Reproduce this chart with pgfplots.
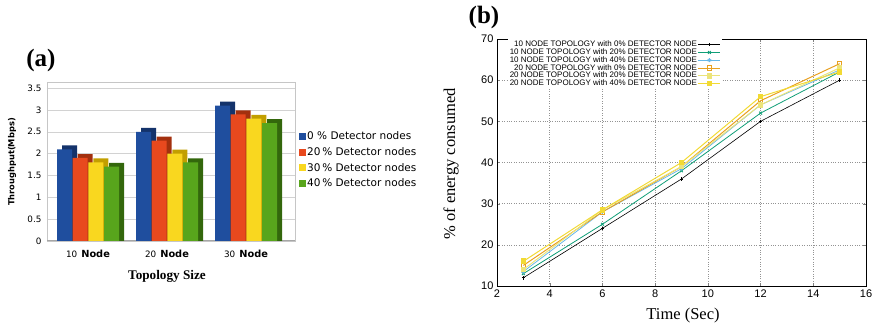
\documentclass[border=0pt]{standalone}
\usepackage{fontspec}
\setmainfont{Liberation Serif}
\newfontfamily\dv{DejaVu Sans}
\newfontfamily\ls{Liberation Sans}
\usepackage{pgfplots}
\usepackage{pgfplotstable}
\pgfplotsset{compat=1.18}
\definecolor{bA}{HTML}{1F4E9E}\definecolor{bAd}{HTML}{14336B}
\definecolor{rA}{HTML}{E8491E}\definecolor{rAd}{HTML}{A3300E}
\definecolor{yA}{HTML}{F9D71F}\definecolor{yAd}{HTML}{C29F00}
\definecolor{gA}{HTML}{58A51C}\definecolor{gAd}{HTML}{33670C}
\definecolor{c2}{HTML}{109E77}
\definecolor{c3}{HTML}{68B8E8}
\definecolor{c4}{HTML}{E8A020}
\definecolor{c5}{HTML}{ECE47A}
\definecolor{c6}{HTML}{F2DA34}
\pgfplotstableread{
x a b c d
0 2.1 1.9 1.8 1.7
1 2.5 2.3 2.0 1.8
2 3.1 2.9 2.8 2.7
}\thr
\begin{document}
\begin{tikzpicture}
\useasboundingbox (0,0) rectangle (879pt,328pt);
% ---------------- (a) ----------------
\begin{axis}[
  at={(47pt,87pt)}, anchor=south west, scale only axis,
  width=248pt, height=159pt,
  xmin=-0.519, xmax=2.62, ymin=0, ymax=3.64,
  ybar, bar width=15pt,
  xtick={0,1,2}, xticklabels={{\fontsize{8.8}{10}\dv 10}\hspace{4pt}\textbf{Node},{\fontsize{8.8}{10}\dv 20}\hspace{4pt}\textbf{Node},{\fontsize{8.8}{10}\dv 30}\hspace{4pt}\textbf{Node}},
  ytick={0,0.5,...,3.5},
  yticklabels={0,0.5,1,1.5,2,2.5,3,3.5},
  major tick length=0pt,
  ymajorgrids, grid style={gray!35},
  axis line style={gray!45},
  /pgf/number format/assume math mode=true,
  yticklabel style={font=\fontsize{8.8}{10}\dv, xshift=-2pt},
  xticklabel style={font=\fontsize{9.8}{11}\dv, yshift=-6pt},
  legend style={at={(1.004,0.707)}, anchor=north west, draw=none, fill=none,
    font=\fontsize{10.5}{12}\dv, row sep=4.2pt, nodes={inner sep=1pt}},
  legend cell align=left,
  legend image code/.code={\draw[#1,draw=none] (0pt,-3.5pt) rectangle (7pt,3.5pt);},
]
\draw[gray!70, line width=2.5pt] (rel axis cs:0,0) -- (rel axis cs:1,0);
\addplot[fill=bAd, draw=none, bar shift=-18.5pt, forget plot] table[x=x, y expr=\thisrow{a}+0.09]{\thr};
\addplot[fill=bA, draw=none, bar shift=-23.5pt] table[x=x, y=a]{\thr};
\addplot[fill=rAd, draw=none, bar shift=-2.8pt, forget plot] table[x=x, y expr=\thisrow{b}+0.09]{\thr};
\addplot[fill=rA, draw=none, bar shift=-7.8pt] table[x=x, y=b]{\thr};
\addplot[fill=yAd, draw=none, bar shift=12.8pt, forget plot] table[x=x, y expr=\thisrow{c}+0.09]{\thr};
\addplot[fill=yA, draw=none, bar shift=7.8pt] table[x=x, y=c]{\thr};
\addplot[fill=gAd, draw=none, bar shift=28.5pt, forget plot] table[x=x, y expr=\thisrow{d}+0.09]{\thr};
\addplot[fill=gA, draw=none, bar shift=23.5pt] table[x=x, y=d]{\thr};
\legend{0 \% Detector nodes,20\,\% Detector nodes,30\,\% Detector nodes,40\,\% Detector nodes}
\end{axis}
\node[font=\bfseries\fontsize{25}{28}\selectfont] at (41pt,268pt) {(a)};
\node[font=\bfseries\fontsize{8.3}{10}\dv, rotate=90] at (12pt,166pt) {Throughput(Mbps)};
\node[font=\bfseries\fontsize{13.2}{15}\selectfont] at (167pt,52pt) {Topology Size};
% ---------------- (b) ----------------
\begin{axis}[
  at={(497pt,42pt)}, anchor=south west, scale only axis,
  width=369pt, height=247pt,
  xmin=2, xmax=16, ymin=10, ymax=70,
  xtick={2,4,...,16}, ytick={10,20,...,70},
  grid=major, grid style={dotted, gray!85, line width=0.5pt},
  major tick length=3pt,
  /pgf/number format/assume math mode=true,
  ticklabel style={font=\fontsize{11}{12}\ls},
  legend style={at={(0.61,1)}, anchor=north east, draw=none, fill=white,
    font=\fontsize{8}{8}\ls, row sep=-1.1pt, nodes={inner sep=0.8pt}, inner sep=1pt},
  legend plot pos=right, legend cell align=right,
  legend image code/.code={\draw[mark repeat=2,mark phase=2,#1] plot coordinates {(0pt,0pt) (11pt,0pt) (22pt,0pt)};},
]
\addplot[black, line width=0.6pt, mark=+, mark size=1.8pt] coordinates {(3,12)(6,24)(9,36)(12,50)(15,60)};
\addplot[c2, line width=0.8pt, mark=x, mark size=2pt] coordinates {(3,13)(6,25)(9,38)(12,52)(15,62)};
\addplot[c3, line width=0.8pt, mark=asterisk, mark size=2pt] coordinates {(3,13.5)(6,28)(9,38.5)(12,54)(15,62.5)};
\addplot[c4, line width=1pt, mark=square, mark size=2.2pt] coordinates {(3,15)(6,28)(9,39)(12,55)(15,64)};
\addplot[c5, line width=1pt, mark=square*, mark size=2.3pt] coordinates {(3,14)(6,28.5)(9,39)(12,54)(15,63)};
\addplot[c6, line width=1pt, mark=square*, mark size=2.3pt] coordinates {(3,16)(6,28.5)(9,40)(12,56)(15,62)};
\legend{10 NODE TOPOLOGY with 0\% DETECTOR NODE,
10 NODE TOPOLOGY with 20\% DETECTOR NODE,
10 NODE TOPOLOGY with 40\% DETECTOR NODE,
20 NODE TOPOLOGY with 0\% DETECTOR NODE,
20 NODE TOPOLOGY with 20\% DETECTOR NODE,
20 NODE TOPOLOGY with 40\% DETECTOR NODE}
\end{axis}
\node[font=\bfseries\fontsize{25}{28}\selectfont] at (484pt,311pt) {(b)};
\node[font=\fontsize{16.5}{18}\selectfont, rotate=90] at (451pt,164pt) {\% of energy consumed};
\node[font=\fontsize{16.5}{18}\selectfont] at (683pt,12pt) {Time (Sec)};
\end{tikzpicture}
\end{document}
